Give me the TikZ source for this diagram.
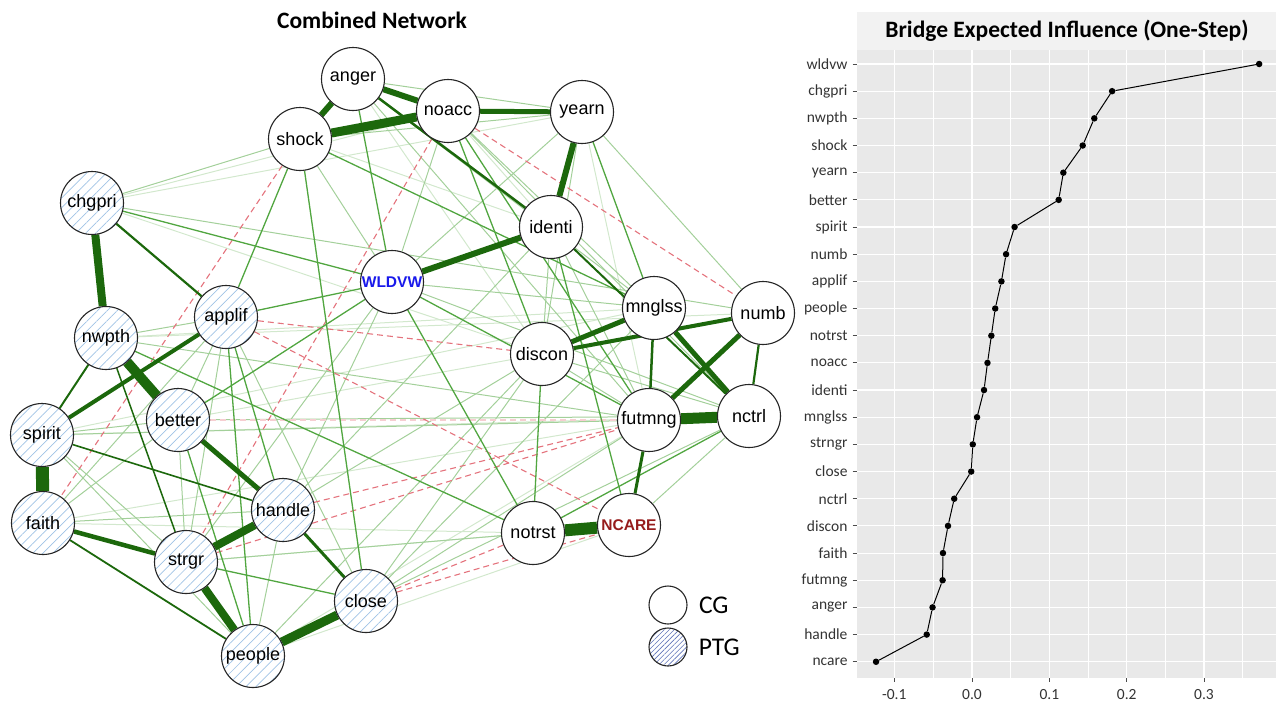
\documentclass[tikz,border=0pt]{standalone}
\usepackage{fontspec}
\setmainfont{Carlito}
\newfontfamily\arialfont{Liberation Sans}
\usetikzlibrary{patterns.meta}

\definecolor{dkgreen}{RGB}{28,104,12}
\definecolor{pgreen}{RGB}{50,150,30}
\definecolor{negred}{RGB}{228,115,125}
\definecolor{hatchblue}{RGB}{160,195,230}
\definecolor{legendblue}{RGB}{95,115,185}
\definecolor{panelgray}{RGB}{233,233,233}
\definecolor{stripgray}{RGB}{242,242,242}
\definecolor{wldvwblue}{RGB}{25,25,235}
\definecolor{ncarered}{RGB}{150,28,28}

\pgfdeclarelayer{edges}
\pgfsetlayers{edges,main}

\tikzset{
  nodebase/.style={circle, draw=black!85, line width=1.1pt, minimum size=63pt,
    inner sep=0pt, font=\arialfont\fontsize{18}{20}\selectfont},
  cg/.style={nodebase, fill=white},
  ptg/.style={nodebase, preaction={fill=white},
    pattern={Lines[angle=45,distance=7pt,line width=0.7pt]}, pattern color=hatchblue},
  strong/.style={draw=dkgreen},
  midedge/.style={draw=pgreen!85, line width=1.3pt},
  weakedge/.style={draw=pgreen!45, line width=1pt},
  faintedge/.style={draw=pgreen!22, line width=1pt},
  negedge/.style={draw=negred, line width=1.1pt, dash pattern=on 6pt off 4pt},
  dot/.style={circle, fill=black, inner sep=0pt, minimum size=6.5pt},
}

\begin{document}
\begin{tikzpicture}[x=1pt, y=-1pt]
\useasboundingbox (0,0) rectangle (1276,705);

% ---------------- network ----------------
\node[font=\bfseries\fontsize{23.5}{26}\selectfont] (nettitle) at (372,20) {Combined Network};

% CG nodes
\foreach \n/\x/\y in {anger/353/79, noacc/448/111, shock/300/139, yearn/582/112,
    identi/551/227, mnglss/654/308, numb/763/313, discon/542/354,
    futmng/649/420, nctrl/749/416, notrst/533/533}
  \node[cg] (\n) at (\x,\y) {\n};
\node[cg, text=wldvwblue, font=\arialfont\bfseries\fontsize{15.5}{17}\selectfont] (wldvw) at (392,282) {WLDVW};
\node[cg, text=ncarered, font=\arialfont\bfseries\fontsize{15.5}{17}\selectfont] (ncare) at (629,525) {NCARE};

% PTG nodes
\foreach \n/\x/\y in {chgpri/92/203, applif/226/317, nwpth/106/338, better/178/420,
    spirit/42/435, faith/43/523, handle/283/510, strgr/186/562,
    close/366/601, people/253/656}
  \node[ptg] (\n) at (\x,\y) {\n};

\begin{pgfonlayer}{edges}
% faint positive edges
\foreach \a/\b in {chgpri/yearn, chgpri/noacc, shock/identi, nwpth/numb, spirit/nctrl,
    better/discon, people/futmng, chgpri/discon, spirit/mnglss, faith/futmng,
    nwpth/mnglss, strgr/ncare, people/ncare, faith/notrst, anger/discon,
    noacc/identi, yearn/futmng}
  \draw[faintedge] (\a) -- (\b);
% weak positive edges
\foreach \a/\b in {chgpri/shock, chgpri/numb, anger/yearn, shock/yearn, yearn/numb,
    yearn/wldvw, noacc/wldvw, noacc/mnglss, noacc/nctrl, anger/futmng, anger/mnglss,
    identi/discon, identi/futmng, wldvw/mnglss, wldvw/nctrl, wldvw/strgr,
    discon/futmng, discon/nctrl, discon/close, applif/strgr, applif/close,
    applif/better, applif/faith, better/strgr, spirit/strgr, spirit/better,
    spirit/people, faith/better, faith/handle, handle/people, handle/wldvw,
    close/futmng, close/mnglss, nwpth/futmng, spirit/futmng, better/nctrl,
    people/discon, handle/identi, notrst/strgr, ncare/nctrl, close/nctrl,
    yearn/discon, shock/wldvw, nwpth/applif, handle/discon}
  \draw[weakedge] (\a) -- (\b);
% negative edges
\draw[negedge, draw=negred!35] (better) -- (futmng);
\foreach \a/\b in {applif/discon, shock/faith, noacc/strgr, noacc/numb, applif/ncare,
    handle/futmng, strgr/futmng, close/notrst, close/ncare}
  \draw[negedge] (\a) -- (\b);
% medium positive edges
\foreach \a/\b in {chgpri/wldvw, wldvw/applif, anger/wldvw, shock/applif, shock/mnglss,
    notrst/wldvw, nwpth/notrst, notrst/nctrl, identi/ncare, notrst/discon,
    wldvw/better, shock/close, yearn/mnglss, applif/handle, applif/people,
    noacc/futmng, wldvw/futmng, close/strgr, better/people, noacc/discon}
  \draw[midedge] (\a) -- (\b);
% strong positive edges
\foreach \a/\b/\w in {anger/identi/2.5, identi/nctrl/2, chgpri/applif/2.2,
    futmng/ncare/3, spirit/nwpth/2, handle/close/3, mnglss/futmng/2.5,
    numb/nctrl/2.2, faith/people/1.8, spirit/handle/1.6, nwpth/strgr/1.5,
    anger/shock/6, anger/noacc/6, noacc/yearn/5, yearn/identi/6, identi/wldvw/6,
    discon/mnglss/5, discon/numb/4, numb/futmng/5, mnglss/nctrl/5,
    faith/strgr/4.5, better/handle/5, applif/spirit/4,
    shock/noacc/9, nwpth/better/10, spirit/faith/13, futmng/nctrl/11,
    notrst/ncare/12, strgr/people/8, people/close/9, handle/strgr/8, chgpri/nwpth/8}
  \draw[strong, line width=\w pt] (\a) -- (\b);
\end{pgfonlayer}

% legend
\node[circle, draw=black!85, line width=1.1pt, fill=white, minimum size=38pt] (legcg) at (668,605) {};
\node[circle, draw=black!85, line width=1.1pt, minimum size=38pt, preaction={fill=white},
  pattern={Lines[angle=45,distance=3.5pt,line width=0.6pt]}, pattern color=legendblue]
  (legptg) at (668,647) {};
\node[anchor=west, font=\fontsize{25.5}{28}\selectfont] at ([xshift=8pt]legcg.east) {CG};
\node[anchor=west, font=\fontsize{25.5}{28}\selectfont] at ([xshift=8pt]legptg.east) {PTG};

% ---------------- bridge expected influence ----------------
\fill[stripgray] (857,12) rectangle (1276,50);
\fill[panelgray] (857,50) rectangle (1276,678);
\node[font=\bfseries\fontsize{23.5}{26}\selectfont] (charttitle) at (1067,31)
  {Bridge Expected Influence (One-Step)};

% minor and major grid
\foreach \x in {933.2, 1010.7, 1088, 1165.3, 1242.7}
  \draw[white, line width=0.5pt] (\x,50) -- (\x,678);
\foreach \x/\t in {894.3/-0.1, 972/0.0, 1049.3/0.1, 1126.7/0.2, 1204/0.3} {
  \draw[white, line width=1.1pt] (\x,50) -- (\x,678);
  \draw[black!70, line width=0.9pt] (\x,678) -- (\x,682);
  \node[font=\fontsize{15.5}{17}\selectfont, text=black!80] at (\x,695) {\t};
}

% rows, values and points
\foreach \lab/\val [count=\i from 0] in {wldvw/0.371, chgpri/0.181, nwpth/0.158,
    shock/0.143, yearn/0.118, better/0.112, spirit/0.055, numb/0.044, applif/0.038,
    people/0.030, notrst/0.025, noacc/0.020, identi/0.0155, mnglss/0.0065,
    strngr/0.001, close/-0.001, nctrl/-0.023, discon/-0.031, faith/-0.0375,
    futmng/-0.038, anger/-0.051, handle/-0.0585, ncare/-0.124} {
  \pgfmathsetmacro\yy{64+27.17*\i}
  \draw[white, line width=1.1pt] (857,\yy) -- (1276,\yy);
  \draw[black!70, line width=0.9pt] (852.5,\yy) -- (857,\yy);
  \node[anchor=east, font=\fontsize{15.5}{17}\selectfont, text=black!80] at (851,\yy) {\lab};
  \node[dot] (p\i) at ({972+774*\val},\yy) {};
}
\foreach \i [evaluate=\i as \j using int(\i+1)] in {0,...,21}
  \draw[line width=1pt] (p\i) -- (p\j);

\end{tikzpicture}
\end{document}
